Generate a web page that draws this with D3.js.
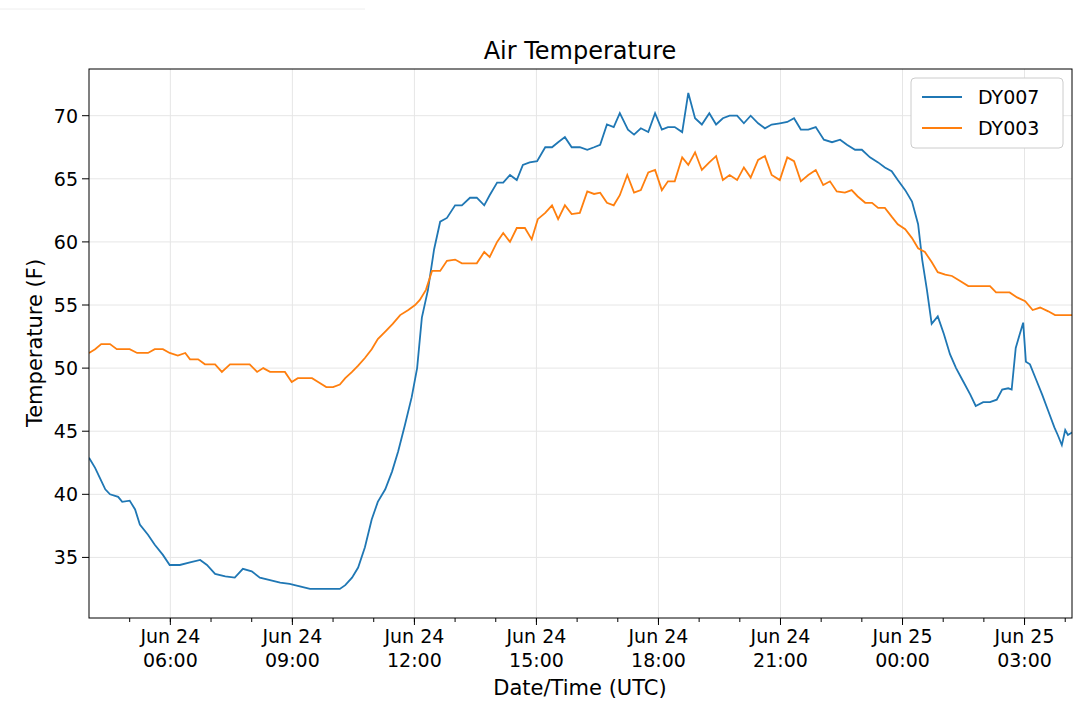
<!DOCTYPE html>
<html><head><meta charset="utf-8">
<script src="https://cdn.jsdelivr.net/npm/d3@7"></script>
<style>body{margin:0;background:#fff}svg{font-family:"DejaVu Sans",sans-serif}</style>
</head><body><svg id="c" width="1080" height="714"></svg>
<script>
// minutes since 2019-06-24 04:00 UTC
const dy007Min=[0,9,16,24,31,43,49,60,68,75,87,97,109,119,134,149,164,174,186,201,215,227,240,252,267,282,296,311,326,341,355,370,378,388,397,407,417,426,437,447,456,466,476,484,491,500,509,518,528,540,550,562,572,583,591,602,611,621,631,640,650,661,673,683,692,702,712,724,735,745,754,764,774,783,795,804,814,825,835,845,854,864,875,884,894,904,915,925,935,945,956,966,976,987,997,1007,1019,1030,1040,1050,1061,1072,1084,1096,1108,1118,1130,1140,1152,1164,1174,1184,1193,1204,1214,1223,1229,1236,1243,1252,1261,1270,1279,1288,1300,1308,1319,1329,1339,1347,1356,1361,1367,1373,1378,1382,1388,1397,1406,1415,1424,1429,1435,1440,1444,1450];
const dy007Val=[42.9,42.1,41.3,40.4,40.0,39.8,39.4,39.5,38.8,37.6,36.8,36.0,35.2,34.4,34.4,34.6,34.8,34.4,33.7,33.5,33.4,34.1,33.9,33.4,33.2,33.0,32.9,32.7,32.5,32.5,32.5,32.5,32.8,33.4,34.2,35.8,38.0,39.4,40.4,41.8,43.4,45.5,47.7,50.0,54.0,56.2,59.4,61.6,61.9,62.9,62.9,63.5,63.5,62.9,63.7,64.7,64.7,65.3,64.9,66.1,66.3,66.4,67.5,67.5,67.9,68.3,67.5,67.5,67.3,67.5,67.7,69.3,69.1,70.2,68.9,68.5,69.0,68.7,70.2,68.9,69.1,69.1,68.7,71.8,69.8,69.3,70.2,69.3,69.8,70.0,70.0,69.4,70.0,69.4,69.0,69.3,69.4,69.5,69.8,68.9,68.9,69.1,68.1,67.9,68.1,67.7,67.3,67.3,66.7,66.3,65.9,65.6,64.9,64.1,63.2,61.4,58.6,56.2,53.5,54.1,52.7,51.1,50.0,49.1,47.9,47.0,47.3,47.3,47.5,48.3,48.4,48.3,51.6,52.7,53.6,50.5,50.3,49.1,47.9,46.6,45.3,44.7,43.9,45.1,44.7,44.9];
const dy003Min=[0,9,18,31,41,60,71,87,97,109,119,131,142,149,161,171,186,196,208,237,248,257,267,289,299,308,329,338,350,360,370,378,388,397,407,417,426,437,448,459,471,481,488,497,506,518,528,540,550,572,583,591,602,611,621,631,643,653,662,673,683,692,702,712,724,735,745,754,764,774,783,794,804,814,825,835,845,854,864,875,884,894,904,915,925,935,945,956,966,976,987,997,1007,1019,1030,1040,1050,1061,1072,1083,1093,1103,1115,1125,1134,1145,1155,1164,1174,1184,1193,1204,1214,1223,1233,1243,1252,1263,1273,1285,1297,1329,1338,1358,1369,1381,1392,1403,1415,1425,1450];
const dy003Val=[51.2,51.5,51.9,51.9,51.5,51.5,51.2,51.2,51.5,51.5,51.2,51.0,51.2,50.7,50.7,50.3,50.3,49.7,50.3,50.3,49.7,50.0,49.7,49.7,48.9,49.2,49.2,48.9,48.5,48.5,48.7,49.2,49.7,50.2,50.8,51.5,52.3,52.9,53.5,54.2,54.6,55.0,55.4,56.2,57.7,57.7,58.5,58.6,58.3,58.3,59.2,58.8,60.0,60.7,60.0,61.1,61.1,60.2,61.8,62.3,62.9,61.8,62.9,62.2,62.3,64.0,63.8,63.9,63.1,62.9,63.7,65.3,63.9,64.1,65.5,65.7,64.1,64.8,64.8,66.7,66.1,67.1,65.7,66.3,66.8,64.9,65.3,64.9,65.9,65.1,66.5,66.8,65.3,64.9,66.7,66.4,64.8,65.3,65.7,64.5,64.8,64.0,63.9,64.1,63.6,63.1,63.1,62.7,62.7,62.0,61.4,61.0,60.3,59.5,59.2,58.4,57.6,57.4,57.3,56.9,56.5,56.5,56.0,56.0,55.6,55.3,54.6,54.8,54.5,54.2,54.2];
const yTicks=[35,40,45,50,55,60,65,70];
const seriesNames=["DY007","DY003"];
const colors=["#1f77b4","#ff7f0e"];

const t0=Date.UTC(2019,5,24,4,0);
const toDate=m=>new Date(t0+m*60000);
const svg=d3.select("#c");
const L=89,R=1072,T=69,B=618;
const x=d3.scaleUtc().domain([toDate(0),toDate(1450)]).range([L,R]);
const y=d3.scaleLinear().domain([30.2,73.7]).range([B,T]);

svg.append("line").attr("x1",0).attr("x2",365).attr("y1",9).attr("y2",9).attr("stroke","#eee");

const major=d3.range(6,29,3).map(h=>new Date(Date.UTC(2019,5,24,h)));
const minor=d3.range(5,29).map(h=>new Date(Date.UTC(2019,5,24,h)));
const g=svg.append("g");
g.selectAll(".vg").data(major).enter().append("line").attr("x1",d=>x(d)).attr("x2",d=>x(d)).attr("y1",T).attr("y2",B).attr("stroke","#e6e6e6");
g.selectAll(".hg").data(yTicks).enter().append("line").attr("x1",L).attr("x2",R).attr("y1",d=>y(d)).attr("y2",d=>y(d)).attr("stroke","#e6e6e6");

const line=d3.line().x(d=>x(toDate(d[0]))).y(d=>y(d[1]));
const data=[d3.zip(dy007Min,dy007Val),d3.zip(dy003Min,dy003Val)];
svg.append("defs").append("clipPath").attr("id","cp").append("rect").attr("x",L).attr("y",T).attr("width",R-L).attr("height",B-T);
data.forEach((d,i)=>svg.append("path").datum(d).attr("d",line).attr("fill","none").attr("stroke",colors[i]).attr("stroke-width",1.8).attr("clip-path","url(#cp)"));

svg.append("rect").attr("x",L).attr("y",T).attr("width",R-L).attr("height",B-T).attr("fill","none").attr("stroke","#000").attr("stroke-width",1);

// x ticks
svg.selectAll(".mn").data(minor).enter().append("line").attr("x1",d=>x(d)).attr("x2",d=>x(d)).attr("y1",B).attr("y2",B+4).attr("stroke","#000");
svg.selectAll(".mj").data(major).enter().append("line").attr("x1",d=>x(d)).attr("x2",d=>x(d)).attr("y1",B).attr("y2",B+7).attr("stroke","#000");
const fd=d3.utcFormat("%b %d"),ft=d3.utcFormat("%H:%M");
const xt=svg.selectAll(".xl").data(major).enter().append("text").attr("text-anchor","middle").attr("font-size",19).attr("fill","#000");
xt.append("tspan").attr("x",d=>x(d)).attr("y",643).text(d=>fd(d));
xt.append("tspan").attr("x",d=>x(d)).attr("y",667).text(d=>ft(d));
// y ticks
svg.selectAll(".yt").data(yTicks).enter().append("line").attr("x1",L-7).attr("x2",L).attr("y1",d=>y(d)).attr("y2",d=>y(d)).attr("stroke","#000");
svg.selectAll(".yl").data(yTicks).enter().append("text").attr("x",L-11).attr("y",d=>y(d)+7).attr("text-anchor","end").attr("font-size",19).text(d=>d);

svg.append("text").attr("x",580).attr("y",59).attr("text-anchor","middle").attr("font-size",24).text("Air Temperature");
svg.append("text").attr("x",580).attr("y",695).attr("text-anchor","middle").attr("font-size",21).text("Date/Time (UTC)");
svg.append("text").attr("transform","translate(42,343) rotate(-90)").attr("text-anchor","middle").attr("font-size",21).text("Temperature (F)");

// legend
const lg=svg.append("g");
lg.append("rect").attr("x",911).attr("y",78).attr("width",152).attr("height",70).attr("rx",4).attr("fill","#fff").attr("stroke","#ccc");
seriesNames.forEach((n,i)=>{
 const yy=97+i*31;
 lg.append("line").attr("x1",922).attr("x2",962).attr("y1",yy).attr("y2",yy).attr("stroke",colors[i]).attr("stroke-width",2);
 lg.append("text").attr("x",978).attr("y",yy+7).attr("font-size",19).text(n);
});
</script></body></html>
